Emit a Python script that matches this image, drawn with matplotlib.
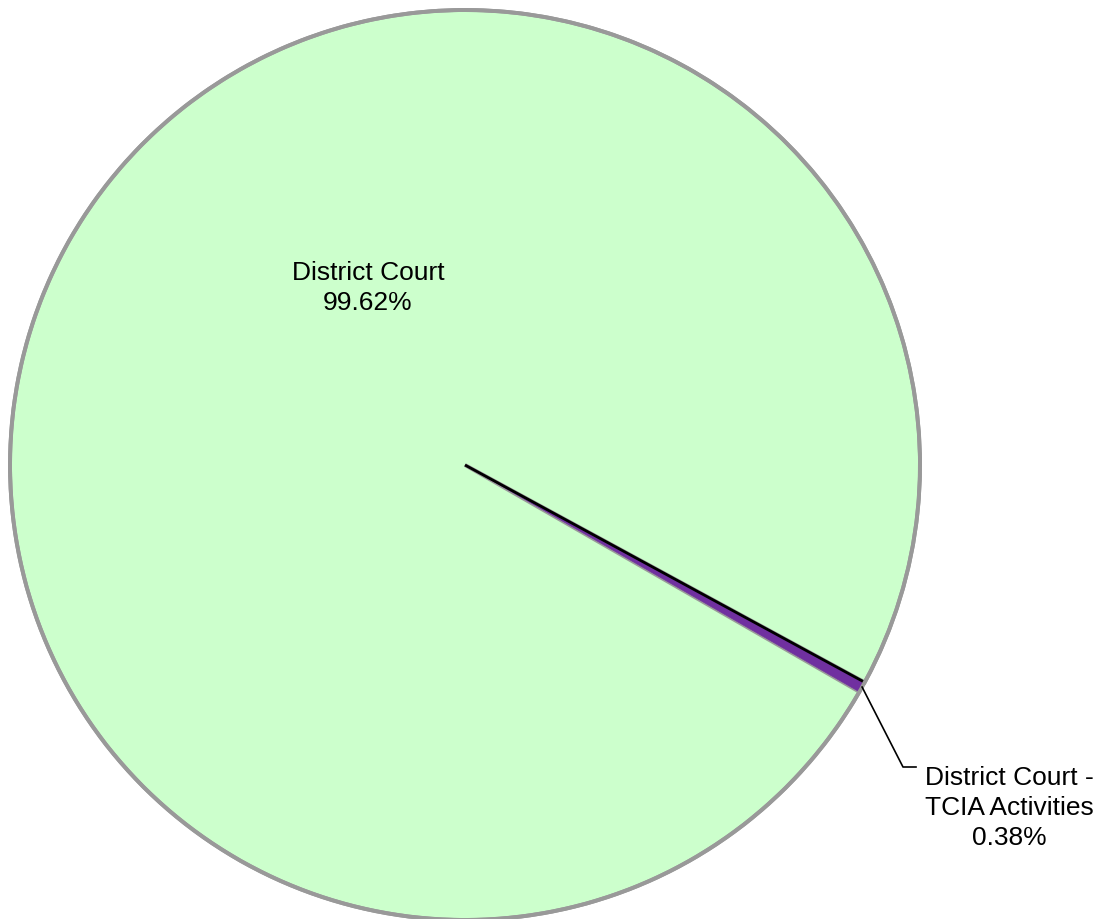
import numpy as np
from matplotlib import pyplot as plt

labels = ["District Court", "District Court -\nTCIA Activities"]
shares = [99.62, 0.38]
colors = ["#CCFFCC", "#7030A0"]

W, H = 1099, 920
cx, cy, r = 465, H - 466, 455
start = -29.9

fig = plt.figure(figsize=(W / 100, H / 100), dpi=100)
ax = fig.add_axes([0, 0, 1, 1])

wedges, _ = ax.pie(shares, colors=colors, startangle=start, counterclock=False,
                   center=(cx, cy), radius=r, frame=True)
wedges[0].set_edgecolor("#999999")
wedges[0].set_linewidth(2.8)
wedges[1].set_edgecolor("#7030A0")
wedges[1].set_linewidth(0.5)
wedges[1].set_zorder(3)
ax.set_xlim(0, W)
ax.set_ylim(0, H)
ax.set_aspect("equal")
ax.set_axis_off()

# dark edge along the upper side of the small slice
w = wedges[1]
t2 = np.deg2rad(w.theta2)
ax.plot([cx, cx + r * np.cos(t2)], [cy, cy + r * np.sin(t2)], color="black",
        linewidth=2, solid_capstyle="butt", zorder=4)

# outer ring back on top
circ = plt.Circle((cx, cy), r, fill=False, edgecolor="#999999", linewidth=2.8, zorder=5)
ax.add_patch(circ)

font = dict(family="Liberation Sans", fontsize=19, color="black")

# big slice label
ax.text(368, H - 288, f"{labels[0]}\n{shares[0]:.2f}%", ha="center", va="center",
        linespacing=1.3, **font)

# small slice label with leader line
mid = np.deg2rad((w.theta1 + w.theta2) / 2)
px, py = cx + r * np.cos(mid), cy + r * np.sin(mid)
ax.plot([px, 903, 916], [py, H - 768, H - 768], color="black", linewidth=1.2, zorder=6)
ax.text(1009, H - 808, f"{labels[1]}\n{shares[1]:.2f}%", ha="center", va="center",
        linespacing=1.3, **font)

plt.savefig("out.png", dpi=100, facecolor="white")
plt.close()
